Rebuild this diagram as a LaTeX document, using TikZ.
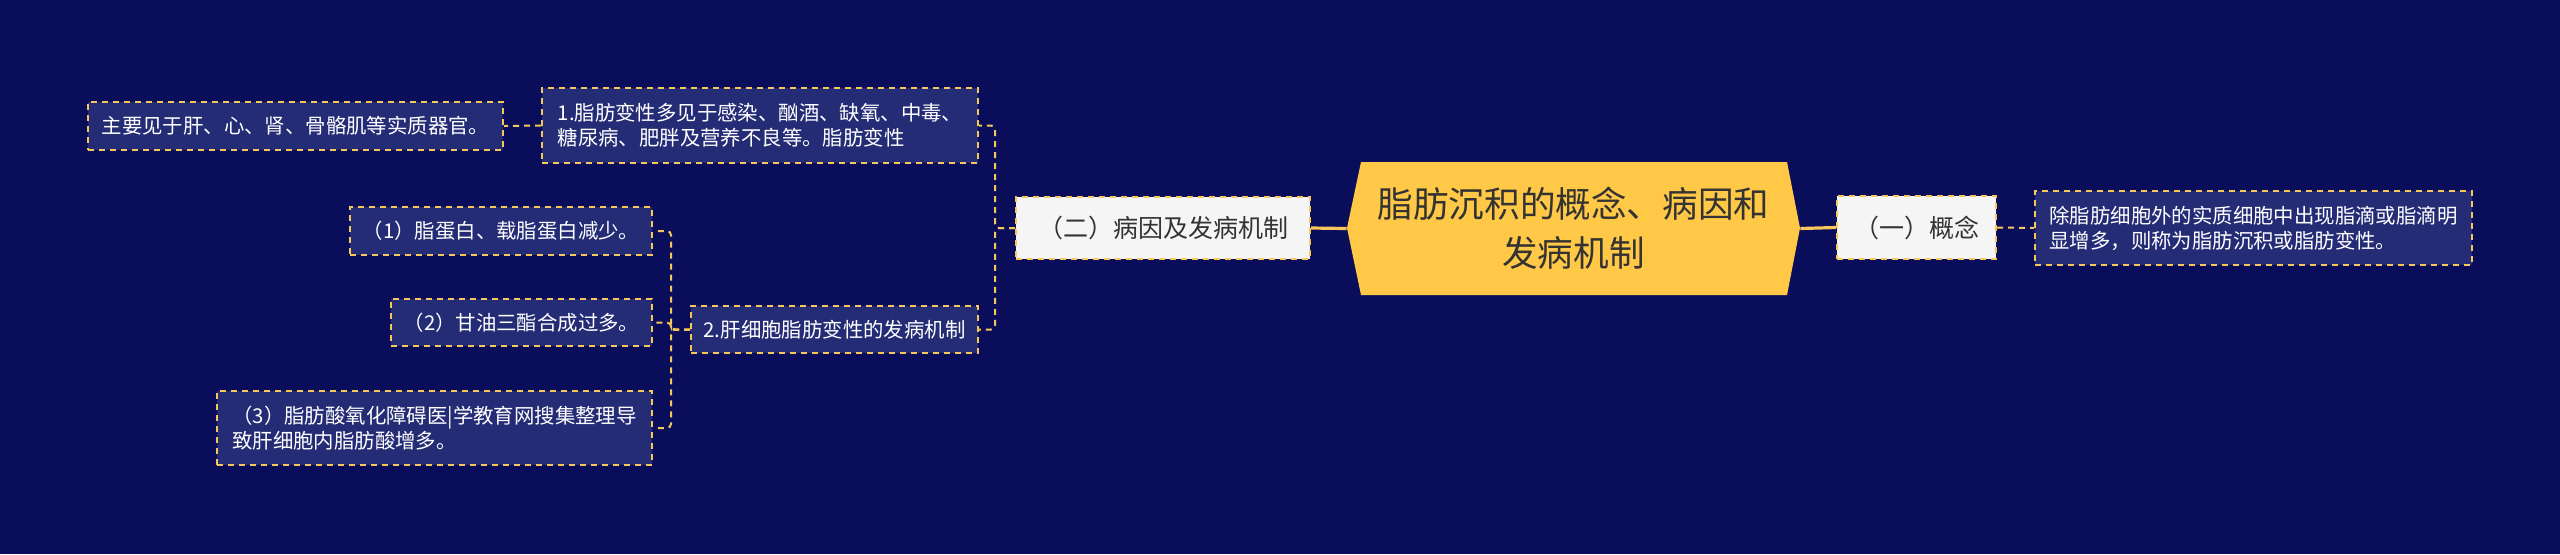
\documentclass[tikz,border=0pt]{standalone}
\usepackage{fontspec}
\setmainfont{Noto Sans CJK SC}
\usetikzlibrary{positioning}

\definecolor{bgnavy}{HTML}{0A0E5A}
\definecolor{boxblue}{HTML}{252C76}
\definecolor{lineyel}{HTML}{F6C75A}
\definecolor{rootyel}{HTML}{FFC847}
\definecolor{palebox}{HTML}{F5F5F5}
\definecolor{darktext}{HTML}{333333}

\tikzset{
    leafbox/.style={draw=lineyel, line width=1pt, dash pattern=on 3pt off 2.5pt,
        fill=boxblue, text=white, align=left, inner sep=0pt,
        font=\fontsize{10.2pt}{12.5pt}\selectfont},
    palebox/.style={leafbox, fill=palebox, text=darktext,
        font=\fontsize{12.5pt}{15pt}\selectfont},
    link/.style={draw=lineyel, line width=1pt, dash pattern=on 3pt off 2.5pt, rounded corners=2pt},
    mainlink/.style={draw=lineyel, line width=1.6pt}
}

\begin{document}
\begin{tikzpicture}[x=0.5pt, y=-0.5pt]
    \useasboundingbox (0,0) rectangle (2560,554);
    \fill[bgnavy] (0,0) rectangle (2560,554); % Background

    \fill[rootyel] (1347,228) -- (1361,162) -- (1787,162) -- (1800,228)
        -- (1787,295) -- (1361,295) -- cycle; % Hexagon
    \node[text=darktext, align=center, minimum width=226.5pt, minimum height=66.5pt,
        font=\fontsize{17.8pt}{24.5pt}\selectfont] (root) at (1573.5,228.5)
        {脂肪沉积的概念、病因和\\发病机制};

    \node[palebox, minimum width=147pt, minimum height=31pt] (cause) at (1163,228) {（二）病因及发病机制};
    \node[palebox, minimum width=79.5pt, minimum height=31.5pt] (concept) at (1916.5,227.5) {（一）概念};
    \node[leafbox, minimum width=218.5pt, minimum height=37pt] (define) at (2253.5,228)
        {除脂肪细胞外的实质细胞中出现脂滴或脂滴明\\显增多，则称为脂肪沉积或脂肪变性。};

    \node[leafbox, minimum width=218pt, minimum height=37.5pt] (seen) at (760,125.5)
        {1.脂肪变性多见于感染、酗酒、缺氧、中毒、\\糖尿病、肥胖及营养不良等。脂肪变性};
    \node[leafbox, minimum width=207.5pt, minimum height=24pt] (organ) at (295.5,126)
        {主要见于肝、心、肾、骨骼肌等实质器官。};
    \node[leafbox, minimum width=143.5pt, minimum height=23.5pt] (mech) at (834.5,329.5)
        {2.肝细胞脂肪变性的发病机制};

    \node[leafbox, minimum width=151pt, minimum height=24pt] (lipo) at (501,231)
        {（1）脂蛋白、载脂蛋白减少。};
    \node[leafbox, minimum width=130.5pt, minimum height=23.5pt] (trig) at (521.5,322.5)
        {（2）甘油三酯合成过多。};
    \node[leafbox, minimum width=217.5pt, minimum height=37pt] (acid) at (434.5,428)
        {（3）脂肪酸氧化障碍医|学教育网搜集整理导\\致肝细胞内脂肪酸增多。};

    % Connectors
    \draw[mainlink] (root.west) -- (cause.east);
    \draw[mainlink] (root.east) -- (concept.west);
    \draw[link] (concept.east) -- (define.west);
    \draw[link] (cause.west) -- ++(-20,0) |- (seen.east);
    \draw[link] (cause.west) -- ++(-20,0) |- (mech.east);
    \draw[link] (seen.west) -- (organ.east);
    \draw[link] (mech.west) -- ++(-19,0) |- (lipo.east);
    \draw[link] (mech.west) -- ++(-19,0) |- (trig.east);
    \draw[link] (mech.west) -- ++(-19,0) |- (acid.east);
\end{tikzpicture}
\end{document}
